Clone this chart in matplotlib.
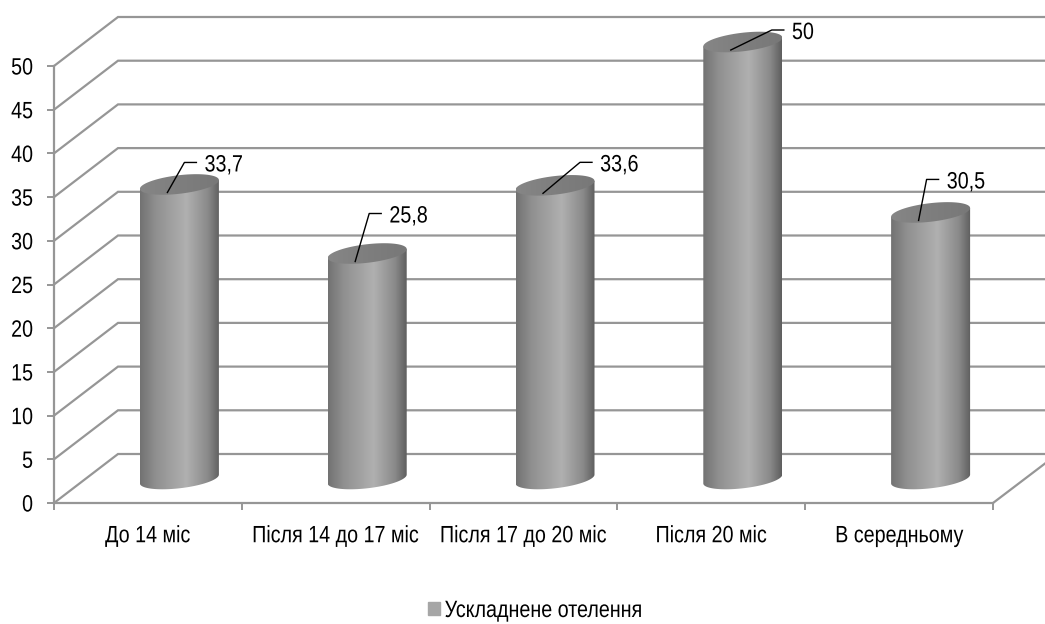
import numpy as np
import matplotlib
matplotlib.use('Agg')
import matplotlib.pyplot as plt
from matplotlib.colors import LinearSegmentedColormap
from matplotlib.patches import Patch, Polygon
from matplotlib.patheffects import AbstractPathEffect
from matplotlib.transforms import Affine2D

plt.rcParams['font.family'] = ['Liberation Sans', 'DejaVu Sans']

categories = ['До 14 міс', 'Після 14 до 17 міс', 'Після 17 до 20 міс', 'Після 20 міс', 'В середньому']
values     = [33.7, 25.8, 33.6, 50, 30.5]
labels     = ['33,7', '25,8', '33,6', '50', '30,5']
yticks     = [0, 5, 10, 15, 20, 25, 30, 35, 40, 45, 50]
series     = 'Ускладнене отелення'

W, H = 1045, 624
left, right, bottom, top = 54, 993, 503, 66     # front plane, in pixels

# leader line bend and end, pixels relative to the point on the cylinder top
leaders = [(17, 30, 29), (14, 48, 26), (37, 31, 49), (41, 20, 53), (8, 41, 20)]

GRID = '#969696'
FS = 17
NARROW = 0.835


# the font in the picture is a narrow one, none is installed so squeeze the glyphs
class Squeeze(AbstractPathEffect):
    def __init__(self, anchor=0.5):
        super().__init__()
        self.anchor = anchor

    def draw_path(self, renderer, gc, tpath, affine, rgbFace=None):
        ext = tpath.get_extents()
        x0 = ext.x0 + ext.width * self.anchor
        squeeze = Affine2D().translate(-x0, 0).scale(NARROW, 1).translate(x0, 0)
        renderer.draw_path(gc, tpath, squeeze + affine, rgbFace)


fig = plt.figure(figsize=(W / 100, H / 100), dpi=100)
ax = fig.add_axes([left / W, 1 - bottom / H, (right - left) / W, (bottom - top) / H])
ax.set_xlim(0, 5)
ax.set_ylim(0, 50)

px = 5 / (right - left)         # data units per pixel, x
py = 50 / (bottom - top)        # data units per pixel, y
depth_x, depth_y = 64 * px, 49 * py

# back wall and side wall lines
xlim_right = (W + 2 - left) * px
for v in yticks:
    ax.plot([0, depth_x, xlim_right], [v, v + depth_y, v + depth_y], color=GRID, lw=1.6,
            clip_on=False, zorder=1, solid_joinstyle='miter')
ax.plot([5, 5 + 54 * px], [0, 41 * py], color=GRID, lw=1.6, clip_on=False, zorder=1)

# cylinders
cmap = LinearSegmentedColormap.from_list('cyl', [(0, '#727272'), (0.2, '#909090'), (0.58, '#b0b0b0'),
                                                  (0.85, '#8a8a8a'), (1, '#5e5e5e')])
top_cmap = LinearSegmentedColormap.from_list('cyltop', ['#868686', '#7e7e7e', '#787878'])
a, b, s = 39.5 * px, 9.3 * py, 4.4 * py
t = np.linspace(0, 2 * np.pi, 181)
for i, v in enumerate(values):
    cx = i + 0.5 + 31.5 * px
    y0 = 24 * py
    y1 = y0 + v
    ex = cx + a * np.cos(t)
    ey = s * np.cos(t) + b * np.sin(t)

    # side: top half of the outline goes along the top ellipse, lower along the base
    lower = t[90:181]
    lx = cx + a * np.cos(lower)
    ly = y0 + s * np.cos(lower) + b * np.sin(lower)
    body = Polygon(np.r_[np.c_[lx, ly], [[cx + a, y1 + s], [cx - a, y1 - s]]], closed=True,
                   transform=ax.transData, fc='none', ec='none')
    ax.add_patch(body)
    im = ax.imshow(np.linspace(0, 1, 256).reshape(1, -1), cmap=cmap, vmin=0, vmax=1, aspect='auto',
                   extent=[cx - a, cx + a, 0, y1 + b + s], zorder=3)
    im.set_clip_box(fig.bbox)
    im.set_clip_path(body)

    lid = Polygon(np.c_[ex, y1 + ey], closed=True, transform=ax.transData, fc='none', ec='none')
    ax.add_patch(lid)
    im2 = ax.imshow(np.linspace(0, 1, 256).reshape(1, -1), cmap=top_cmap, vmin=0, vmax=1, aspect='auto',
                    extent=[cx - a, cx + a, y1 - 20 * py, y1 + 20 * py], zorder=3.1)
    im2.set_clip_box(fig.bbox)
    im2.set_clip_path(lid)

    # leader line and value label
    sx = cx - 12 * px
    sy = y1 - 8 * py
    dx, dy, ex_ = leaders[i]
    ax.plot([sx, sx + dx * px, sx + ex_ * px], [sy, sy + dy * py, sy + dy * py], color='black', lw=1,
            clip_on=False, zorder=4)
    ax.text(sx + (ex_ + 8) * px, sy + (dy - 3) * py, labels[i], fontsize=FS, ha='left', va='center',
            color='black', zorder=5, path_effects=[Squeeze(0)])

ax.set_xlim(0, 5)
ax.set_ylim(0, 50)

# axes
for name in ['top', 'right']:
    ax.spines[name].set_visible(False)
for name in ['left', 'bottom']:
    ax.spines[name].set_color(GRID)
    ax.spines[name].set_linewidth(1.6)
ax.patch.set_visible(False)
ax.set_yticks(yticks)
ax.set_yticklabels([str(v) for v in yticks], fontsize=FS, color='black', path_effects=[Squeeze(1)])
ax.set_xticks(range(6))
ax.set_xticklabels([])
ax.set_xticks(np.arange(5) + 0.5, minor=True)
ax.set_xticklabels(categories, minor=True, fontsize=FS, color='black', path_effects=[Squeeze(0.5)])
ax.tick_params(axis='y', length=5, width=1.4, color=GRID, pad=10)
ax.tick_params(axis='x', which='major', length=5, width=1.4, color=GRID)
ax.tick_params(axis='x', which='minor', length=0, pad=16)

leg = fig.legend(handles=[Patch(color='#a6a6a6', label=series)], loc='center left',
                 bbox_to_anchor=(428 / W, 1 - 611 / H), frameon=False, fontsize=FS, borderpad=0,
                 borderaxespad=0, handlelength=0.5, handleheight=0.5, handletextpad=0.2)
leg.get_texts()[0].set_path_effects([Squeeze(0)])

fig.savefig('out.png', dpi=100)
